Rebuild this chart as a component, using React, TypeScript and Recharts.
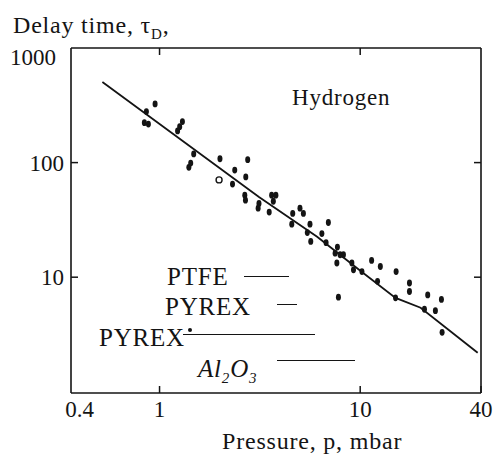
import { ComposedChart, Line, Scatter, XAxis, YAxis } from 'recharts'

// (log-log)
const pressure = [
  0.95, 0.86, 0.84, 0.88, 1.3, 1.26, 1.23, 1.48, 1.4, 1.43, 2.0, 2.37, 2.31, 2.75, 2.69, 2.66, 2.68,
  3.13, 3.1, 3.62, 3.8, 3.69, 3.52, 4.61, 5.01, 5.21, 4.56, 5.62, 5.45, 5.67, 6.94, 6.44, 6.76, 7.7,
  7.94, 7.5, 8.25, 7.65, 9.09, 9.26, 10.2, 11.4, 12.6, 15.1, 12.2, 7.79, 15.0, 17.6, 17.6, 20.9, 21.7,
  23.7, 25.4, 25.6,
]
const delay = [
  325, 279, 223, 217, 228, 206, 189, 119, 91, 99, 108, 86, 65, 106, 75, 52, 47, 44, 40, 52, 52, 46, 37,
  36, 40, 36, 29, 29, 24.5, 20.5, 30, 24, 20, 18.3, 15.7, 16.2, 15.7, 13.3, 13.3, 11.6, 11.2, 14.0, 12.4,
  11.2, 9.2, 6.7, 6.6, 8.9, 7.5, 5.25, 7.0, 5.1, 6.4, 3.3,
]
const openPressure = [1.98]
const openDelay = [70.6]
const fitPressure = [0.519, 3.13, 6.1, 10.2, 15.0, 20.0, 38.5]
const fitDelay = [506, 50.2, 22.5, 11.1, 6.6, 5.41, 2.19]

const xTicks = [0.4, 1, 10, 40]
const xTicksTop = [1, 10]
const yTicks = [10, 100, 1000]
const yTicksRight = [10, 100]
const legendNames = ['PTFE', 'PYREX', 'PYREX', 'Al2O3']

const points = pressure.map((x, i) => ({ x, y: delay[i] }))
const openPoints = openPressure.map((x, i) => ({ x, y: openDelay[i] }))
const fitLine = fitPressure.map((x, i) => ({ x, y: fitDelay[i] }))

const INK = '#141414'
const SERIF = '"Liberation Serif", "Times New Roman", serif'
const TICK = 7

function BottomTick({ x, y, payload }: any) {
  return (
    <g>
      {payload.value !== 0.4 && <line x1={x} x2={x} y1={y} y2={y - TICK} stroke={INK} strokeWidth={1.5} />}
      <text x={x} y={y + 24} textAnchor="middle" fill={INK} fontFamily={SERIF} fontSize={23}>
        {payload.value}
      </text>
    </g>
  )
}

function TopTick({ x, y }: any) {
  return <line x1={x} x2={x} y1={y} y2={y + TICK} stroke={INK} strokeWidth={1.5} />
}

function LeftTick({ x, y, payload }: any) {
  const top = payload.value === 1000
  return (
    <g>
      {!top && <line x1={x} x2={x + TICK} y1={y} y2={y} stroke={INK} strokeWidth={1.5} />}
      <text
        x={x - (top ? 15 : 7)}
        y={y + (top ? 17 : 8)}
        textAnchor="end"
        fill={INK}
        fontFamily={SERIF}
        fontSize={23}
      >
        {payload.value}
      </text>
    </g>
  )
}

function RightTick({ x, y }: any) {
  return <line x1={x} x2={x - TICK} y1={y} y2={y} stroke={INK} strokeWidth={1.5} />
}

function Dot({ cx, cy }: any) {
  return <ellipse cx={cx} cy={cy} rx={2.5} ry={3.4} fill={INK} />
}

function OpenDot({ cx, cy }: any) {
  return <circle cx={cx} cy={cy} r={3} fill="#fff" stroke={INK} strokeWidth={1.4} />
}

const text = (fs: number) => ({
  position: 'absolute' as const,
  fontFamily: SERIF,
  fontSize: fs,
  lineHeight: 1,
  color: INK,
  whiteSpace: 'nowrap' as const,
  letterSpacing: 0.8,
})

// legend rows: label box + short stroke (markers mostly lost in the scan)
const legendLayout = [
  { left: 167, top: 264, x1: 244, x2: 289, ly: 277, dot: false },
  { left: 165, top: 294, x1: 277, x2: 297, ly: 305, dot: false },
  { left: 99, top: 325, x1: 183, x2: 315, ly: 335, dot: true },
  { left: 198, top: 356, x1: 277, x2: 355, ly: 361, dot: false },
]

function LegendName({ name }: { name: string }) {
  if (name === 'Al2O3') {
    return (
      <i>
        Al<sub style={{ fontSize: 15 }}>2</sub>O<sub style={{ fontSize: 15 }}>3</sub>
      </i>
    )
  }
  return <>{name}</>
}

const axisLine = { stroke: INK, strokeWidth: 1.6 }

export default function App() {
  return (
    <div style={{ position: 'absolute', left: 0, top: 0, width: 498, height: 454, background: '#fff' }}>
      <ComposedChart width={498} height={454} margin={{ top: 47, right: 16, bottom: 60, left: 70 }}>
        <XAxis
          dataKey="x"
          type="number"
          scale="log"
          domain={[0.362, 40]}
          allowDataOverflow
          ticks={xTicks}
          interval={0}
          height={1}
          tickSize={0}
          tickMargin={0}
          tickLine={false}
          axisLine={axisLine}
          tick={<BottomTick />}
        />
        <XAxis
          xAxisId="top"
          orientation="top"
          dataKey="x"
          type="number"
          scale="log"
          domain={[0.362, 40]}
          allowDataOverflow
          ticks={xTicksTop}
          interval={0}
          height={1}
          tickSize={0}
          tickMargin={0}
          tickLine={false}
          axisLine={axisLine}
          tick={<TopTick />}
        />
        <YAxis
          type="number"
          scale="log"
          domain={[0.976, 1000]}
          allowDataOverflow
          ticks={yTicks}
          interval={0}
          width={1}
          tickSize={0}
          tickMargin={0}
          tickLine={false}
          axisLine={axisLine}
          tick={<LeftTick />}
        />
        <YAxis
          yAxisId="right"
          orientation="right"
          type="number"
          scale="log"
          domain={[0.976, 1000]}
          allowDataOverflow
          ticks={yTicksRight}
          interval={0}
          width={1}
          tickSize={0}
          tickMargin={0}
          tickLine={false}
          axisLine={axisLine}
          tick={<RightTick />}
        />
        <Line
          data={fitLine}
          dataKey="y"
          type="linear"
          stroke={INK}
          strokeWidth={1.8}
          dot={false}
          isAnimationActive={false}
        />
        <Scatter data={points} dataKey="y" shape={<Dot />} isAnimationActive={false} />
        <Scatter data={openPoints} dataKey="y" shape={<OpenDot />} isAnimationActive={false} />
      </ComposedChart>

      <div style={{ ...text(24), left: 13, top: 13 }}>
        Delay time, τ<sub style={{ fontSize: 15 }}>D</sub>,
      </div>
      <div style={{ ...text(23), left: 292, top: 86 }}>Hydrogen</div>
      <div style={{ ...text(24), left: 222, top: 429 }}>Pressure, p, mbar</div>

      {legendNames.map((name, i) => {
        const l = legendLayout[i]
        return (
          <div key={i}>
            <div style={{ ...text(25), left: l.left, top: l.top }}>
              <LegendName name={name} />
            </div>
            <div
              style={{
                position: 'absolute',
                left: l.x1,
                top: l.ly - 1,
                width: l.x2 - l.x1,
                height: 0,
                borderTop: `1.8px solid ${INK}`,
              }}
            />
            {l.dot && (
              <div
                style={{
                  position: 'absolute',
                  left: l.x1 + 5,
                  top: l.ly - 7,
                  width: 4,
                  height: 4,
                  borderRadius: 2,
                  background: INK,
                }}
              />
            )}
          </div>
        )
      })}
    </div>
  )
}
